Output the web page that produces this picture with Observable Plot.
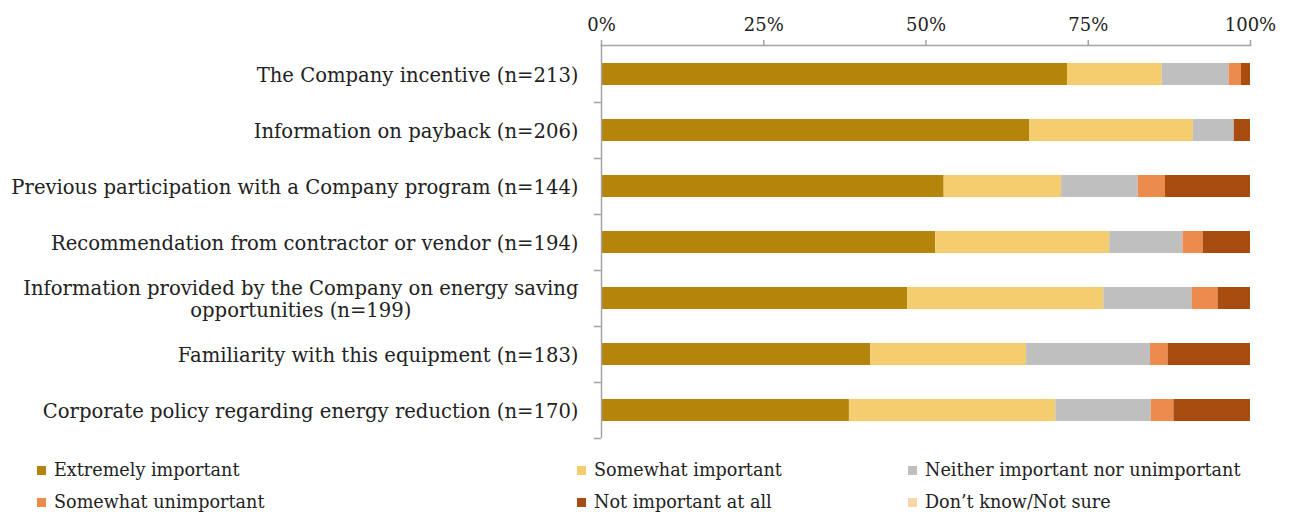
<!DOCTYPE html>
<html>
<head>
<meta charset="utf-8">
<script src="https://cdn.jsdelivr.net/npm/d3@7"></script>
<script src="https://cdn.jsdelivr.net/npm/@observablehq/plot@0.6"></script>
<style>
  html, body { margin: 0; padding: 0; background: #fff; }
  #wrap { width: 1293px; height: 516px; position: relative; font-family: "DejaVu Serif", "Liberation Serif", serif; color: #222; }
  #legend { position: relative; width: 1293px; height: 66px; }
  .item { position: absolute; font-size: 17.6px; line-height: 24px; white-space: nowrap; }
  .sw { display: inline-block; width: 9px; height: 9px; margin-right: 8px; vertical-align: 1px; }
</style>
</head>
<body>
<div id="wrap">
  <div id="chart"></div>
  <div id="legend"></div>
</div>
<script>
const categories = [
  "The Company incentive (n=213)",
  "Information on payback (n=206)",
  "Previous participation with a Company program (n=144)",
  "Recommendation from contractor or vendor (n=194)",
  "Information provided by the Company on energy saving opportunities (n=199)",
  "Familiarity with this equipment (n=183)",
  "Corporate policy regarding energy reduction (n=170)"
];
const seriesNames = [
  "Extremely important",
  "Somewhat important",
  "Neither important nor unimportant",
  "Somewhat unimportant",
  "Not important at all",
  "Don’t know/Not sure"
];
const seriesColors = ["#b5850b", "#f3cd6e", "#bfbfbf", "#ec8b4b", "#a94c0f", "#f7d6a9"];
const extremelyImportant = [71.8, 66.0, 52.8, 51.5, 47.2, 41.5, 38.2];
const somewhatImportant  = [14.6, 25.2, 18.1, 26.8, 30.2, 24.0, 31.8];
const neitherImportant   = [10.3,  6.3, 11.8, 11.3, 13.6, 19.1, 14.7];
const somewhatUnimportant= [ 1.9,  0.0,  4.2,  3.1,  4.0,  2.7,  3.5];
const notImportantAtAll  = [ 1.4,  2.5, 13.1,  7.3,  5.0, 12.7, 11.8];
const dontKnow           = [ 0,    0,    0,    0,    0,    0,    0  ];
const xTicks = [0, 25, 50, 75, 100];
const wrappedLabels = {
  "Information provided by the Company on energy saving opportunities (n=199)":
    "Information provided by the Company on energy saving\nopportunities (n=199)"
};

const seriesValues = [extremelyImportant, somewhatImportant, neitherImportant, somewhatUnimportant, notImportantAtAll, dontKnow];
const data = [];
categories.forEach((c, i) => {
  seriesNames.forEach((s, j) => {
    data.push({category: c, series: s, value: seriesValues[j][i]});
  });
});

const axisColor = "#a3a3a3";
const fig = Plot.plot({
  width: 1293,
  height: 450,
  marginTop: 45,
  marginBottom: 12,
  marginLeft: 601,
  marginRight: 43,
  style: {fontFamily: "'DejaVu Serif', serif", color: "#222", background: "#fff"},
  x: {domain: [0, 100], axis: null},
  y: {domain: categories, paddingInner: 0.61, paddingOuter: 0.305, axis: null},
  color: {domain: seriesNames, range: seriesColors},
  marks: [
    Plot.barX(data, Plot.stackX({x: "value", y: "category", fill: "series", order: seriesNames})),
    Plot.frame({anchor: "top", stroke: axisColor, strokeWidth: 1.5}),
    Plot.ruleX([0], {stroke: axisColor, strokeWidth: 1.5}),
    Plot.axisX({anchor: "top", ticks: xTicks, tickFormat: d => d + "%", tickSize: 6, tickPadding: 9,
      fontSize: 18, stroke: axisColor, strokeWidth: 1.5, label: null, fill: "#222"}),
    Plot.axisY({anchor: "left", tickSize: 7, tickFormat: () => "", dy: 28, stroke: axisColor, strokeWidth: 1.5, label: null}),
    Plot.axisY({anchor: "left", tickSize: 0, tickPadding: 23, fontSize: 19.6, lineWidth: Infinity, lineHeight: 1.12,
      tickFormat: d => wrappedLabels[d] || d, label: null, fill: "#222"})
  ]
});
document.getElementById("chart").append(fig);

// center wrapped category label lines (as in the source chart)
fig.querySelectorAll("text").forEach(t => {
  const spans = t.querySelectorAll("tspan");
  if (spans.length > 1) {
    const w = t.getBBox().width;
    t.setAttribute("text-anchor", "middle");
    spans.forEach(s => s.setAttribute("x", -w / 2));
  }
});

// legend
const legendPos = [[37, 8], [577, 8], [908, 8], [37, 40], [577, 40], [908, 40]];
const legend = document.getElementById("legend");
seriesNames.forEach((s, i) => {
  const d = document.createElement("div");
  d.className = "item";
  d.style.left = legendPos[i][0] + "px";
  d.style.top = legendPos[i][1] + "px";
  const sw = document.createElement("span");
  sw.className = "sw";
  sw.style.background = seriesColors[i];
  d.append(sw, document.createTextNode(s));
  legend.append(d);
});
</script>
</body>
</html>
